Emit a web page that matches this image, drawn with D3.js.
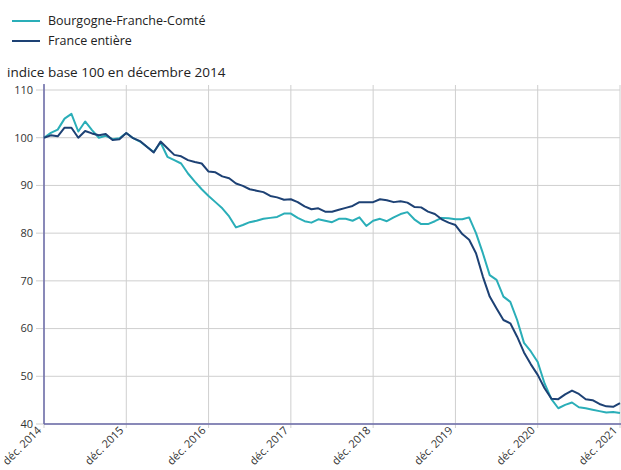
<!DOCTYPE html>
<html><head><meta charset="utf-8">
<script src="https://cdn.jsdelivr.net/npm/d3@7"></script>
<style>body{margin:0;background:#fff;font-family:"Open Sans",sans-serif;}</style>
</head><body>
<svg id="c" width="621" height="470"></svg>
<script>
const seriesNames = ["Bourgogne-Franche-Comté", "France entière"];
const bfc = [100,101,101.7,104,105,101.3,103.4,101.6,100,100.4,99.7,99.9,101,99.9,99.2,98.1,97,99,96,95.3,94.6,92.5,90.8,89.2,87.8,86.5,85.2,83.5,81.2,81.7,82.3,82.6,83,83.2,83.4,84.1,84.1,83.2,82.5,82.2,82.9,82.6,82.3,83,83,82.6,83.3,81.5,82.6,83,82.5,83.3,84,84.4,82.9,81.9,81.9,82.5,83.2,83.1,82.9,82.9,83.3,80,75.8,71.2,70.2,66.7,65.6,61.8,57,55.2,53,48.5,45.2,43.3,44,44.5,43.5,43.3,43,42.7,42.4,42.5,42.3];
const france = [100,100.5,100.3,102.1,102.1,100,101.4,100.9,100.5,100.8,99.5,99.7,101,99.9,99.3,98.1,96.9,99.2,97.8,96.4,96.1,95.3,94.9,94.6,92.9,92.75,91.9,91.5,90.4,89.9,89.2,88.9,88.6,87.8,87.5,87,87.1,86.5,85.6,85,85.2,84.5,84.5,84.9,85.3,85.7,86.5,86.5,86.5,87.1,86.9,86.5,86.7,86.4,85.5,85.4,84.5,84,82.9,82.2,81.7,79.8,78.6,75.8,70.9,66.7,64.2,61.8,61.1,58.3,55,52.5,50.3,47.5,45.3,45.2,46.2,47,46.3,45.2,45,44.2,43.7,43.6,44.4];
const xTickLabels = ["déc. 2014","déc. 2015","déc. 2016","déc. 2017","déc. 2018","déc. 2019","déc. 2020","déc. 2021"];
const yTicks = [40,50,60,70,80,90,100,110];
const colors = ["#2aaeb8", "#1d4174"];

const svg = d3.select("#c");
const x = d3.scaleLinear().domain([0, 84]).range([44, 620]);
const y = d3.scaleLinear().domain([40, 110]).range([424, 90]);

// grid
svg.append("g").selectAll("line").data(yTicks).join("line")
  .attr("x1", 36).attr("x2", 620).attr("y1", d => y(d)).attr("y2", d => y(d))
  .attr("stroke", "#cfcfcf").attr("stroke-width", 1);
svg.append("g").selectAll("line").data(xTickLabels).join("line")
  .attr("x1", (d,i) => x(i*12)).attr("x2", (d,i) => x(i*12))
  .attr("y1", 85).attr("y2", 428)
  .attr("stroke", "#cfcfcf").attr("stroke-width", 1);

// y labels
svg.append("g").selectAll("text").data(yTicks).join("text")
  .attr("x", 33).attr("y", d => y(d)).attr("dy", "0.35em")
  .attr("text-anchor", "end").attr("font-size", 11).attr("fill", "#333")
  .text(d => d);

// x labels
svg.append("g").selectAll("text").data(xTickLabels).join("text")
  .attr("transform", (d,i) => `translate(${x(i*12)-2},431) rotate(-45)`)
  .attr("text-anchor", "end").attr("font-size", 11).attr("fill", "#333")
  .text(d => d);

// axes
svg.append("line").attr("x1", 44).attr("x2", 44).attr("y1", 84).attr("y2", 424)
  .attr("stroke", "#6a6aa8").attr("stroke-width", 1.5);
svg.append("line").attr("x1", 44).attr("x2", 621).attr("y1", 424).attr("y2", 424)
  .attr("stroke", "#6a6aa8").attr("stroke-width", 1.5);

const line = d3.line().x((d,i) => x(i)).y(d => y(d));
[bfc, france].forEach((s, k) => {
  svg.append("path").datum(s).attr("d", line).attr("fill", "none")
    .attr("stroke", colors[k]).attr("stroke-width", 2).attr("stroke-linejoin", "round");
});

// legend
seriesNames.forEach((n, k) => {
  const ly = 21 + k*20;
  svg.append("line").attr("x1", 12).attr("x2", 40).attr("y1", ly).attr("y2", ly)
    .attr("stroke", colors[k]).attr("stroke-width", 2);
  svg.append("text").attr("x", 48).attr("y", ly).attr("dy", "0.35em")
    .attr("font-size", 12.5).attr("fill", "#222").text(n);
});

svg.append("text").attr("x", 7).attr("y", 77).attr("font-size", 13.5).attr("fill", "#222")
  .text("indice base 100 en décembre 2014");
</script>
</body></html>
